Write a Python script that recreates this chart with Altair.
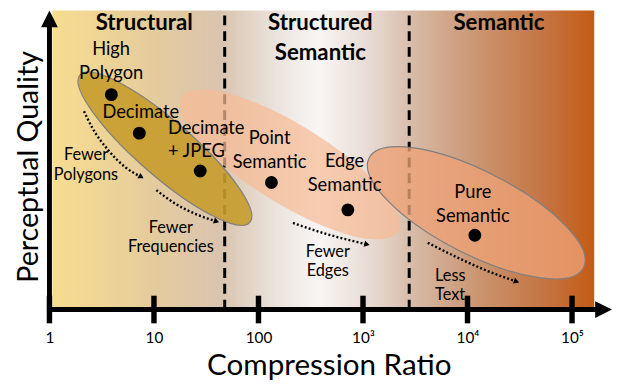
import altair as alt
import pandas as pd

# ---------------- data (x = compression ratio, y = perceptual quality, arbitrary units) ----------------
tick_values = [1, 10, 100, 1000, 10000, 100000]
tick_labels = ["1", "10", "100", "10³", "10⁴", "10⁵"]

region_names = ["Structural", "Structured\nSemantic", "Semantic"]
region_ratio = [8.06, 391, 20000]
region_quality = [283, 283, 283]

boundary_ratio = [47.5, 2767]

method_names = ["High Polygon", "Decimate", "Decimate + JPEG", "Point Semantic", "Edge Semantic", "Pure Semantic"]
method_ratio = [3.91, 7.24, 27.7, 133, 716, 11750]
method_quality = [217.7, 178.7, 140.3, 128.7, 101, 75.3]

label_text = ["High\nPolygon", "Decimate", "Point\nSemantic", "Edge\nSemantic", "Pure\nSemantic"]
label_ratio = [3.89, 7.47, 127.6, 666, 11246]
label_quality = [258, 194.5, 167.7, 144, 112.7]
label_left_text = ["Decimate\n+ JPEG"]
label_left_ratio = [13.59]
label_left_quality = [178.3]

group_names = ["Structured Semantic", "Structural", "Semantic"]
group_center_ratio = [199.2, 12.73, 12134]
group_center_quality = [147, 163, 98]

trend_text = ["Fewer\nPolygons", "Fewer\nFrequencies", "Fewer\nEdges"]
trend_text_ratio = [2.236, 14.5, 460]
trend_text_quality = [151, 78, 53.7]
trend_left_text = ["Less\nText"]
trend_left_ratio = [4891]
trend_left_quality = [29.3]

trend_path_ratio = [
    [2.141, 2.564, 3.687, 5.301, 7.553],
    [10.54, 15.72, 26.09, 39.70],
    [213.6, 410.1, 1091],
    [4165, 7438, 15346, 29460],
]
trend_path_quality = [
    [201, 184.3, 161, 144.3, 134.3],
    [121, 107.7, 96, 89.3],
    [87.7, 77.7, 66],
    [67.7, 54.3, 39.3, 28.3],
]
trend_end_angle = [31, 19, 15, 20]

# ---------------- layout / style ----------------
X_MAX = 241200
Y_MAX = 303
FONT = "Lato"

xscale = alt.Scale(type="log", domain=[1, X_MAX], nice=False)
yscale = alt.Scale(domain=[0, Y_MAX], nice=False, zero=False)

label_expr = " : ".join(
    f"datum.value == {v} ? '{t}'" for v, t in zip(tick_values, tick_labels)
) + " : ''"

xaxis = alt.Axis(
    values=tick_values, labelExpr=label_expr, domain=False, ticks=False, grid=False,
    labelFont=FONT, labelFontSize=15.5, labelColor="black", labelPadding=33,
    labelBaseline="alphabetic", labelFlush=False, labelOverlap=False,
    titleFont=FONT, titleFontSize=30, titleFontWeight="normal", titleColor="black",
    titleX=283, titleY=66, titleBaseline="alphabetic", titleAlign="center",
)
yaxis = alt.Axis(
    labels=False, ticks=False, domain=False, grid=False,
    titleFont=FONT, titleFontSize=29, titleFontWeight="normal", titleColor="black",
    titleAngle=270, titleX=-12, titleY=158, titleBaseline="alphabetic", titleAlign="center",
)


def X(field):
    return alt.X(field, type="quantitative", scale=xscale, axis=xaxis, title="Compression Ratio")


def Y(field):
    return alt.Y(field, type="quantitative", scale=yscale, axis=yaxis, title="Perceptual Quality")


def ellipse_path(r):
    k = 0.5523
    n = lambda v: f"{v:.4f}"
    return (
        f"M -1 0 C -1 {n(-k*r)} {n(-k)} {n(-r)} 0 {n(-r)} "
        f"C {n(k)} {n(-r)} 1 {n(-k*r)} 1 0 "
        f"C 1 {n(k*r)} {n(k)} {n(r)} 0 {n(r)} "
        f"C {n(-k)} {n(r)} -1 {n(k*r)} -1 0 Z"
    )


ELLIPSE_STYLE = {
    "Structured Semantic": dict(a=129, r=0.31, angle=31.8, fill="#F7BB95", opacity=0.72, stroke=None),
    "Structural": dict(a=114, r=0.2456, angle=41, fill="#C79C2C", opacity=0.9, stroke="#7F7F7F"),
    "Semantic": dict(a=122, r=0.344, angle=27.1, fill="#EDA276", opacity=0.78, stroke="#7F7F7F"),
}

gradient = alt.Gradient(
    gradient="linear", x1=0, x2=1, y1=0, y2=0,
    stops=[
        alt.GradientStop(offset=0.0, color="#F7DD8F"),
        alt.GradientStop(offset=0.176, color="#E6CC9C"),
        alt.GradientStop(offset=0.31, color="#D9C4AF"),
        alt.GradientStop(offset=0.419, color="#ECE5DF"),
        alt.GradientStop(offset=0.492, color="#F8F6F5"),
        alt.GradientStop(offset=0.594, color="#E6D8D0"),
        alt.GradientStop(offset=0.668, color="#D7BAA5"),
        alt.GradientStop(offset=0.741, color="#CFA285"),
        alt.GradientStop(offset=0.814, color="#C98D64"),
        alt.GradientStop(offset=0.905, color="#C57544"),
        alt.GradientStop(offset=1.0, color="#C35B15"),
    ],
)

# ---------------- layers ----------------
bg = alt.Chart(pd.DataFrame({"r0": [1.067], "r1": [163100], "q0": [0], "q1": [Y_MAX]})).mark_rect(
    fill=gradient
).encode(x=X("r0"), x2="r1", y=Y("q0"), y2="q1")

boundaries = alt.Chart(pd.DataFrame({"r": boundary_ratio, "q0": [0, 0], "q1": [Y_MAX, Y_MAX]})).mark_rule(
    color="black", strokeWidth=3, strokeDash=[10, 6]
).encode(x=X("r"), y=Y("q0"), y2="q1")

ellipse_layers = []
for name, r, q in zip(group_names, group_center_ratio, group_center_quality):
    s = ELLIPSE_STYLE[name]
    props = dict(
        shape=ellipse_path(s["r"]), size=(2 * s["a"]) ** 2, angle=s["angle"],
        filled=True, fill=s["fill"], fillOpacity=s["opacity"], opacity=1,
    )
    if s["stroke"]:
        props.update(stroke=s["stroke"], strokeWidth=1.2, strokeOpacity=1)
    else:
        props.update(strokeWidth=0)
    ellipse_layers.append(
        alt.Chart(pd.DataFrame({"r": [r], "q": [q], "group": [name]})).mark_point(**props).encode(
            x=X("r"), y=Y("q")
        )
    )

rows = []
for i, (rs, qs) in enumerate(zip(trend_path_ratio, trend_path_quality)):
    for j, (r, q) in enumerate(zip(rs, qs)):
        rows.append({"id": i, "ord": j, "r": r, "q": q})
trend_df = pd.DataFrame(rows)
trend_lines = alt.Chart(trend_df).mark_line(
    interpolate="monotone", color="black", strokeWidth=2.4, strokeDash=[2, 2.2]
).encode(x=X("r"), y=Y("q"), detail="id:N", order="ord:Q")

heads_df = pd.DataFrame({
    "r": [rs[-1] for rs in trend_path_ratio],
    "q": [qs[-1] for qs in trend_path_quality],
    "ang": trend_end_angle,
})
trend_heads = alt.Chart(heads_df).mark_point(
    shape="triangle-right", filled=True, size=40, color="black", opacity=1
).encode(x=X("r"), y=Y("q"), angle=alt.Angle("ang:Q", scale=None))

points = alt.Chart(pd.DataFrame({"r": method_ratio, "q": method_quality, "name": method_names})).mark_point(
    filled=True, size=170, color="black", opacity=1
).encode(x=X("r"), y=Y("q"))


def text_layer(texts, rs, qs, size, align="center", weight="normal", lh=24):
    return alt.Chart(pd.DataFrame({"t": texts, "r": rs, "q": qs})).mark_text(
        font=FONT, fontSize=size, fontWeight=weight, align=align, baseline="alphabetic",
        lineBreak="\n", lineHeight=lh, color="black",
    ).encode(x=X("r"), y=Y("q"), text="t:N")


regions = text_layer(region_names, region_ratio, region_quality, 22.5, weight="bold", lh=30)
labels = text_layer(label_text, label_ratio, label_quality, 18.5, lh=24)
labels_left = text_layer(label_left_text, label_left_ratio, label_left_quality, 18.5, align="left", lh=24)
trends = text_layer(trend_text, trend_text_ratio, trend_text_quality, 16.5, lh=20)
trends_left = text_layer(trend_left_text, trend_left_ratio, trend_left_quality, 16.5, align="left", lh=20)

# axes drawn as thick arrows
y_line = alt.Chart(pd.DataFrame({"r": [1], "q0": [0], "q1": [288]})).mark_rule(
    color="black", strokeWidth=5, strokeCap="square"
).encode(x=X("r"), y=Y("q0"), y2="q1")
x_line = alt.Chart(pd.DataFrame({"r0": [1], "r1": [168500], "q": [0]})).mark_rule(
    color="black", strokeWidth=5, strokeCap="square"
).encode(x=X("r0"), x2="r1", y=Y("q"))
ticks = alt.Chart(pd.DataFrame({"r": tick_values, "q0": [-14] * 6, "q1": [14] * 6})).mark_rule(
    color="black", strokeWidth=5.5
).encode(x=X("r"), y=Y("q0"), y2="q1")
y_head = alt.Chart(pd.DataFrame({"r": [1], "q": [294.5]})).mark_point(
    shape="M 0 -1 L 1 1 L -1 1 Z", size=289, filled=True, color="black", opacity=1, strokeWidth=0
).encode(x=X("r"), y=Y("q"))
x_head = alt.Chart(pd.DataFrame({"r": [200450], "q": [0]})).mark_point(
    shape="M 1 0 L -1 -1 L -1 1 Z", size=289, filled=True, color="black", opacity=1, strokeWidth=0
).encode(x=X("r"), y=Y("q"))

chart = alt.layer(
    bg, boundaries, *ellipse_layers, trend_lines, trend_heads, points,
    regions, labels, labels_left, trends, trends_left,
    y_line, x_line, ticks, y_head, x_head,
).properties(
    width=570, height=303,
    padding={"left": 42, "top": 0, "right": 0, "bottom": 76},
    autosize=alt.AutoSizeParams(type="none"),
    background="white",
).configure_view(stroke=None)

chart.save("out.html", embed_options={"renderer": "svg", "actions": False})
